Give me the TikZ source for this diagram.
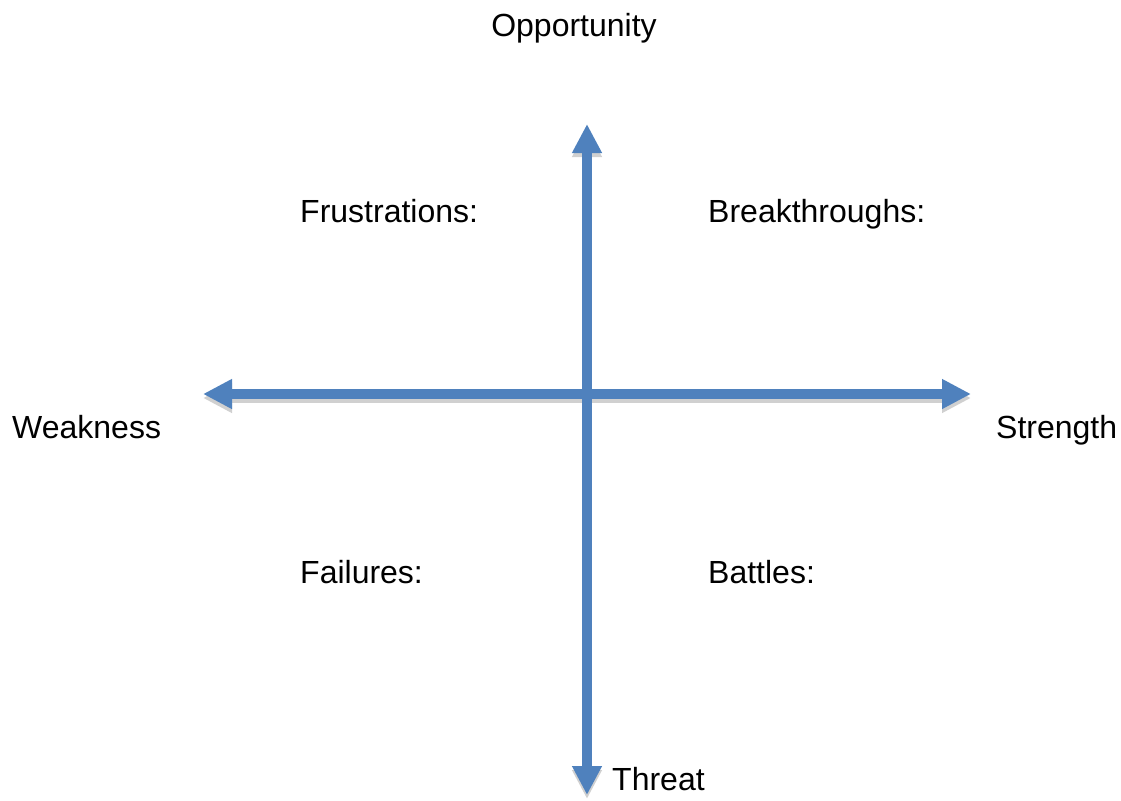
\documentclass[tikz,border=0pt]{standalone}
\usepackage{fontspec}
\setmainfont{Liberation Sans}
\usetikzlibrary{arrows.meta}
\definecolor{axisblue}{HTML}{4F81BD}
\definecolor{shadowgray}{HTML}{D0D0D0}
\begin{document}
\begin{tikzpicture}[x=1pt,y=-1pt,
  lbl/.style={inner sep=0pt,font=\fontsize{32}{36}\selectfont,anchor=base west},
  axis/.style={line width=10pt,color=axisblue,{Triangle[width=28pt,length=29pt]}-{Triangle[width=28pt,length=29pt]}},
  shadowaxis/.style={line width=10pt,color=shadowgray,{Triangle[width=28pt,length=29pt]}-{Triangle[width=28pt,length=29pt]}}]
\useasboundingbox (0,0) rectangle (1121,800);
\coordinate (top) at (587,124);
\coordinate (bot) at (587,795);
\coordinate (left) at (203,394);
\coordinate (right) at (971,394);
% shadows
\draw[shadowaxis] ([yshift=-4pt]left) -- ([yshift=-4pt]right);
\draw[shadowaxis] ([yshift=-4pt]top) -- ([yshift=-4pt]bot);
% axes
\draw[axis] (left) -- (right);
\draw[axis] (top) -- (bot);
% labels
\node[lbl,anchor=base] (opp) at (574,37) {Opportunity};
\node[lbl] (thr) at (612,790) {Threat};
\node[lbl] (weak) at (12,438) {Weakness};
\node[lbl] (str) at (996,438) {Strength};
\node[lbl] (fru) at (300,222) {Frustrations:};
\node[lbl] (brk) at (708,222) {Breakthroughs:};
\node[lbl] (fail) at (300,583) {Failures:};
\node[lbl] (bat) at (708,583) {Battles:};
\end{tikzpicture}
\end{document}
